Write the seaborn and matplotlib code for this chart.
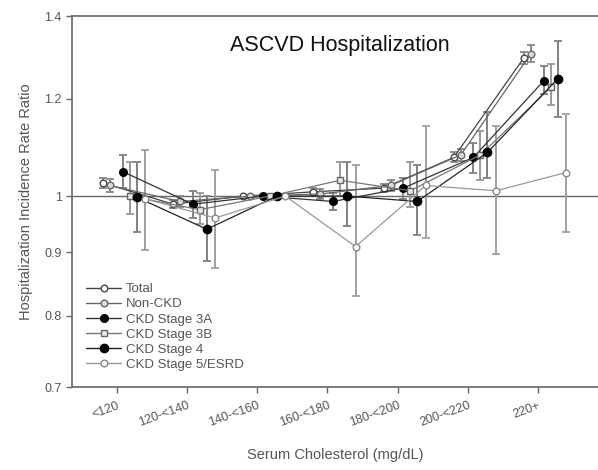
import numpy as np
import pandas as pd
import matplotlib
matplotlib.use("Agg")
import matplotlib.pyplot as plt
import seaborn as sns
from matplotlib.ticker import FixedLocator, FixedFormatter, NullLocator
from matplotlib.lines import Line2D

categories = ["<120", "120-<140", "140-<160", "160-<180", "180-<200", "200-<220", "220+"]
series_names = ["Total", "Non-CKD", "CKD Stage 3A", "CKD Stage 3B", "CKD Stage 4", "CKD Stage 5/ESRD"]

total_val = [1.025, 0.985, 1.0, 1.008, 1.015, 1.075, 1.295]
total_lo = [1.015, 0.978, 1.0, 1.0, 1.008, 1.065, 1.28]
total_hi = [1.035, 0.992, 1.0, 1.016, 1.022, 1.085, 1.31]

nonckd_val = [1.02, 0.99, 1.0, 1.004, 1.02, 1.08, 1.305]
nonckd_lo = [1.008, 0.98, 1.0, 0.995, 1.01, 1.068, 1.285]
nonckd_hi = [1.032, 1.0, 1.0, 1.013, 1.03, 1.092, 1.325]

s3a_val = [1.047, 0.985, 1.0, 0.99, 1.015, 1.075, 1.24]
s3a_lo = [1.015, 0.96, 1.0, 0.975, 0.995, 1.045, 1.21]
s3a_hi = [1.08, 1.01, 1.0, 1.005, 1.035, 1.105, 1.275]

s3b_val = [1.0, 0.975, 1.0, 1.03, 1.01, 1.08, 1.225]
s3b_lo = [0.967, 0.95, 1.0, 1.0, 0.98, 1.03, 1.185]
s3b_hi = [1.065, 1.005, 1.0, 1.065, 1.065, 1.13, 1.28]

s4_val = [0.998, 0.94, 1.0, 1.0, 0.99, 1.085, 1.245]
s4_lo = [0.935, 0.885, 1.0, 0.945, 0.93, 1.035, 1.16]
s4_hi = [1.065, 1.0, 1.0, 1.065, 1.06, 1.17, 1.335]

s5_val = [0.995, 0.96, 1.0, 0.91, 1.02, 1.01, 1.045]
s5_lo = [0.905, 0.875, 1.0, 0.83, 0.925, 0.897, 0.935]
s5_hi = [1.09, 1.05, 1.0, 1.06, 1.14, 1.14, 1.165]

vals = [total_val, nonckd_val, s3a_val, s3b_val, s4_val, s5_val]
los = [total_lo, nonckd_lo, s3a_lo, s3b_lo, s4_lo, s5_lo]
his = [total_hi, nonckd_hi, s3a_hi, s3b_hi, s4_hi, s5_hi]

# style (position offsets within category, markers, colours)
offsets = [-0.2, -0.1, 0.08, 0.18, 0.28, 0.4]
markers = ["o", "o", "o", "s", "o", "o"]
mfc = ["white", "#d8d8d8", "black", "#e8e8e8", "black", "white"]
mec = ["#444444", "#666666", "black", "#666666", "black", "#888888"]
msz = [4.8, 4.8, 5.5, 4.8, 6.0, 4.8]
lcol = ["#444444", "#666666", "#333333", "#777777", "#222222", "#999999"]
ecol = ["#888888", "#888888", "#808080", "#999999", "#808080", "#a0a0a0"]

rows = []
for name, v, lo, hi, off in zip(series_names, vals, los, his, offsets):
    for i, c in enumerate(categories):
        rows.append(dict(series=name, cat=c, idx=i, x=i + off, y=v[i], lo=lo[i], hi=hi[i]))
df = pd.DataFrame(rows)

sns.set_style("white")
plt.rcParams["font.family"] = ["Liberation Sans", "DejaVu Sans"]

fig = plt.figure(figsize=(5.98, 4.70), dpi=100)
ax = fig.add_axes([72 / 598, 1 - 387 / 470, 1 - 72 / 598, (387 - 16) / 470])

ax.set_yscale("log")
ax.axhline(1.0, color="#666666", lw=1.0, zorder=1)

for k, name in enumerate(series_names):
    d = df[(df.series == name) & (df.hi > df.lo)]
    ax.errorbar(d.x, d.y, yerr=[d.y - d.lo, d.hi - d.y], fmt="none",
                ecolor=ecol[k], elinewidth=1.4, capsize=3, capthick=1.3, zorder=2)
for k, name in enumerate(series_names):
    d = df[df.series == name]
    sns.lineplot(data=d, x="x", y="y", ax=ax, color=lcol[k], lw=0.9,
                 marker=markers[k], markersize=msz[k], markerfacecolor=mfc[k],
                 markeredgecolor=mec[k], markeredgewidth=1.0, zorder=3 + k,
                 legend=False, sort=False)

ax.set_ylim(0.7, 1.4)
yt = [0.7, 0.8, 0.9, 1.0, 1.2, 1.4]
ax.yaxis.set_major_locator(FixedLocator(yt))
ax.yaxis.set_major_formatter(FixedFormatter(["0.7", "0.8", "0.9", "1", "1.2", "1.4"]))
ax.yaxis.set_minor_locator(NullLocator())

ax.set_xlim(-0.641, 6.855)
ax.set_xticks(range(len(categories)))
ax.set_xticklabels(categories, rotation=20, ha="right", rotation_mode="anchor")

ax.tick_params(axis="both", direction="out", length=4, width=1, color="#666666",
               labelcolor="#555555", labelsize=9, left=True, bottom=True)
ax.tick_params(axis="x", pad=5)

for s in ["left", "bottom", "top"]:
    ax.spines[s].set_visible(True)
    ax.spines[s].set_color("#666666")
    ax.spines[s].set_linewidth(1.2)
ax.spines["right"].set_visible(False)

ax.set_xlabel("Serum Cholesterol (mg/dL)", fontsize=10.5, color="#555555", labelpad=14)
ax.set_ylabel("Hospitalization Incidence Rate Ratio", fontsize=10.5, color="#555555", labelpad=8)

fig.text(340 / 598, 1 - 45 / 470, "ASCVD Hospitalization", fontsize=15.5, color="#111111",
         ha="center", va="center")

handles = []
for k, name in enumerate(series_names):
    handles.append(Line2D([0], [0], color=lcol[k], lw=1.0, marker=markers[k],
                          markersize=msz[k], markerfacecolor=mfc[k],
                          markeredgecolor=mec[k]))
leg = ax.legend(handles, series_names, loc="upper left", bbox_to_anchor=(0.01, 0.305),
                frameon=False, fontsize=9.5, labelspacing=0.22, handlelength=2.6,
                handletextpad=0.4, borderpad=0.2)
for t in leg.get_texts():
    t.set_color("#555555")

fig.savefig("out.png", dpi=100)
